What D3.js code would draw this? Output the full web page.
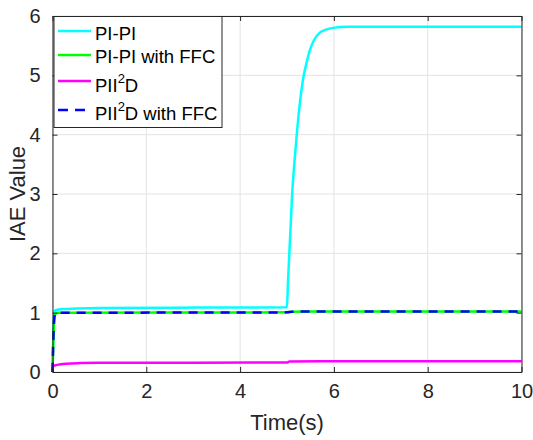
<!DOCTYPE html>
<html><head><meta charset="utf-8">
<script src="https://cdn.jsdelivr.net/npm/d3@7"></script>
<style>body{margin:0;background:#fff;} svg{display:block;font-family:"Liberation Sans",Arial,sans-serif;}</style>
</head><body>
<svg id="c" width="533" height="440"></svg>
<script>
// ---- data ----
const xTicks = [0, 2, 4, 6, 8, 10];
const yTicks = [0, 1, 2, 3, 4, 5, 6];
const piTime = [0, 0.02, 0.05, 0.1, 0.2, 0.5, 1, 5.0, 5.02, 5.05, 5.08, 5.11, 5.16, 5.21, 5.27, 5.35, 5.42, 5.49, 5.58, 5.7, 5.83, 5.98, 6.3, 7, 10];
const piValue = [0, 0.7, 1.03, 1.05, 1.06, 1.07, 1.08, 1.09, 1.5, 2.0, 2.5, 3.0, 3.55, 4.02, 4.5, 4.97, 5.22, 5.43, 5.6, 5.72, 5.77, 5.8, 5.82, 5.82, 5.82];
const ffcTime = [0, 0.02, 0.04, 0.06, 0.1, 0.3, 5.0, 5.1, 5.4, 10];
const ffcValue = [0, 0.6, 0.92, 0.98, 1.0, 1.0, 1.005, 1.015, 1.02, 1.02];
const piiTime = [0, 0.01, 0.05, 0.1, 0.3, 0.6, 1, 5.0, 5.05, 6, 10];
const piiValue = [0, 0.1, 0.11, 0.12, 0.14, 0.15, 0.155, 0.16, 0.175, 0.18, 0.18];
const piiFfcTime = ffcTime;
const piiFfcValue = ffcValue;
const seriesNames = ["PI-PI", "PI-PI with FFC", "PII\u00b2D", "PII\u00b2D with FFC"];
const seriesColors = ["#00ffff", "#00ff00", "#ff00ff", "#0000ff"];

// ---- layout ----
const svg = d3.select("#c");
const L = 52.5, R = 521.5, T = 16, B = 372;
const x = d3.scaleLinear().domain([0, 10]).range([L, R]);
const y = d3.scaleLinear().domain([0, 6]).range([B, T]);
const axisColor = "#262626";

// grid
const g = svg.append("g");
g.selectAll(".gx").data(xTicks).enter().append("line")
  .attr("x1", d => x(d)).attr("x2", d => x(d)).attr("y1", T).attr("y2", B)
  .attr("stroke", "#e3e3e3").attr("stroke-width", 1);
g.selectAll(".gy").data(yTicks).enter().append("line")
  .attr("y1", d => y(d)).attr("y2", d => y(d)).attr("x1", L).attr("x2", R)
  .attr("stroke", "#e3e3e3").attr("stroke-width", 1);

// series
const series = [
  {t: piTime, v: piValue, color: seriesColors[0], dash: null},
  {t: ffcTime, v: ffcValue, color: seriesColors[1], dash: null},
  {t: piiTime, v: piiValue, color: seriesColors[2], dash: null},
  {t: piiFfcTime, v: piiFfcValue, color: seriesColors[3], dash: "9,7"}
];
const line = d3.line().x(d => x(d[0])).y(d => y(d[1])).curve(d3.curveMonotoneX);
const plot = svg.append("g");
series.forEach(s => {
  const pts = s.t.map((t, i) => [t, s.v[i]]);
  plot.append("path").attr("d", line(pts)).attr("fill", "none")
    .attr("stroke", s.color).attr("stroke-width", 2.5)
    .attr("stroke-dasharray", s.dash);
});

// axes
const fs = 20;
const xAx = svg.append("g").attr("transform", `translate(0,${B})`)
  .call(d3.axisBottom(x).tickValues(xTicks).tickSizeInner(-5).tickSizeOuter(0).tickPadding(12).tickFormat(d3.format("d")));
const xTop = svg.append("g").attr("transform", `translate(0,${T})`)
  .call(d3.axisTop(x).tickValues(xTicks).tickSizeInner(-5).tickSizeOuter(0).tickFormat(""));
const yAx = svg.append("g").attr("transform", `translate(${L},0)`)
  .call(d3.axisLeft(y).tickValues(yTicks).tickSizeInner(-5).tickSizeOuter(0).tickPadding(12).tickFormat(d3.format("d")));
const yR = svg.append("g").attr("transform", `translate(${R},0)`)
  .call(d3.axisRight(y).tickValues(yTicks).tickSizeInner(-5).tickSizeOuter(0).tickFormat(""));
[xAx, xTop, yAx, yR].forEach(a => {
  a.select(".domain").attr("stroke", axisColor);
  a.selectAll(".tick line").attr("stroke", axisColor);
  a.selectAll("text").attr("fill", axisColor).attr("font-size", fs)
    .attr("font-family", "Liberation Sans, Arial, sans-serif");
});

// axis labels
svg.append("text").attr("x", (L + R) / 2).attr("y", 430).attr("text-anchor", "middle")
  .attr("font-size", 22).attr("fill", axisColor).text("Time(s)");
svg.append("text").attr("transform", `translate(25,${(T + B) / 2}) rotate(-90)`)
  .attr("text-anchor", "middle").attr("font-size", 22).attr("fill", axisColor).text("IAE Value");

// legend
const lg = svg.append("g");
lg.append("rect").attr("x", 54).attr("y", 16.5).attr("width", 168).attr("height", 111)
  .attr("fill", "#fff").attr("stroke", axisColor).attr("stroke-width", 1);
const rowsY = [31, 55, 81, 110];
const baseY = [39.5, 63, 91.5, 120];
seriesNames.forEach((name, i) => {
  lg.append("line").attr("x1", 58).attr("x2", 91).attr("y1", rowsY[i]).attr("y2", rowsY[i])
    .attr("stroke", seriesColors[i]).attr("stroke-width", 2.5)
    .attr("stroke-dasharray", i === 3 ? "10,7" : null);
  const t = lg.append("text").attr("x", 95).attr("y", baseY[i]).attr("font-size", 18.5).attr("fill", "#000");
  if (name.indexOf("\u00b2") >= 0) {
    const parts = name.split("\u00b2");
    t.append("tspan").text(parts[0]);
    t.append("tspan").attr("dy", -9).attr("font-size", 13).text("2");
    t.append("tspan").attr("dy", 9).text(parts[1]);
  } else {
    t.text(name);
  }
});
</script>
</body></html>
